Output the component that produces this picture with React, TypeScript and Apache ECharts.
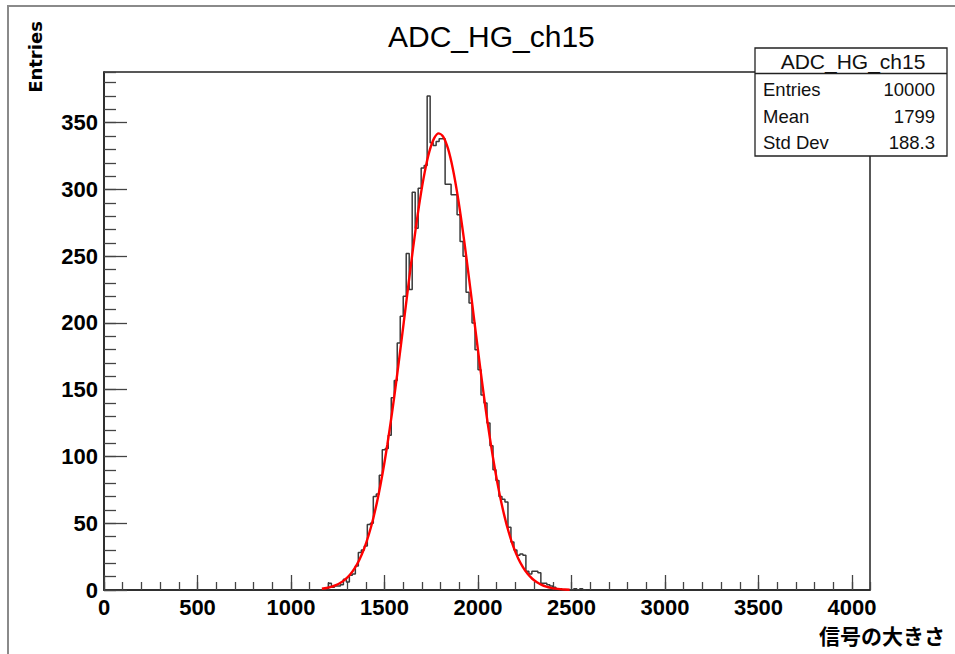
import React, { useEffect, useRef } from "react";
import * as echarts from "echarts";

const chartTitle = "ADC_HG_ch15";
const xAxisName = "信号の大きさ";
const yAxisName = "Entries";
const xMin = 0;
const xMax = 4096;
const yMin = 0;
const yMax = 388;
const xMajor = 500;
const xMinor = 100;
const yMajor = 50;
const yMinor = 10;

// histogram: bins of width 16 starting at binStart
const binStart = 1152;
const binWidth = 16;
const binCounts = [
  0, 0, 1, 5, 2, 3, 3, 4, 8, 6,
  11, 12, 18, 28, 30, 33, 49, 50, 70, 72,
  86, 105, 106, 116, 144, 157, 185, 205, 220, 252,
  225, 298, 271, 301, 316, 318, 370, 335, 333, 336,
  338, 338, 304, 304, 296, 296, 281, 261, 250, 223,
  215, 200, 180, 165, 146, 140, 125, 108, 90, 82,
  70, 68, 66, 47, 36, 30, 26, 27, 26, 14,
  12, 14, 14, 13, 5, 5, 4, 3, 2, 1,
  1, 0, 0, 0, 0, 1, 0, 1, 0,
];

// gaussian fit curve
const fitX = [
  1165, 1190, 1215, 1240, 1265, 1290, 1315, 1340, 1365, 1390,
  1415, 1440, 1465, 1490, 1515, 1540, 1565, 1590, 1615, 1640,
  1665, 1690, 1715, 1740, 1765, 1790, 1815, 1840, 1865, 1890,
  1915, 1940, 1965, 1990, 2015, 2040, 2065, 2090, 2115, 2140,
  2165, 2190, 2215, 2240, 2265, 2290, 2315, 2340, 2365, 2390,
  2415, 2440, 2465, 2490,
];
const fitY = [
  0.97, 1.53, 2.37, 3.62, 5.41, 7.94, 11.45, 16.2, 22.5, 30.6,
  41.0, 53.8, 69.3, 87.6, 108.8, 132.5, 158.5, 186.0, 214.2, 242.2,
  268.8, 292.8, 313.0, 328.5, 338.3, 342.0, 339.3, 330.4, 315.8, 296.3,
  272.8, 246.6, 218.8, 190.5, 162.8, 136.5, 112.4, 90.8, 72.0, 56.1,
  42.9, 32.1, 23.6, 17.1, 12.1, 8.43, 5.76, 3.86, 2.54, 1.64,
  1.04, 0.65, 0.4, 0.24,
];

const statsTitle = "ADC_HG_ch15";
const statsLabels = ["Entries", "Mean", "Std Dev"];
const statsValues = ["10000", "1799", "188.3"];

const LABEL_FONT = "'Liberation Sans', Arial, sans-serif";

export default function App() {
  const ref = useRef<HTMLDivElement>(null);

  useEffect(() => {
    if (!ref.current) return;
    const chart = echarts.init(ref.current, undefined, { renderer: "svg" });

    const histData: number[][] = [];
    histData.push([binStart, 0]);
    binCounts.forEach((c, i) => histData.push([binStart + i * binWidth, c]));
    const lastEdge = binStart + binCounts.length * binWidth;
    histData.push([lastEdge, binCounts[binCounts.length - 1]]);
    histData.push([lastEdge, 0]);

    const fitData = fitX.map((x, i) => [x, fitY[i]]);

    const statsRowY = [89, 116, 142];

    const graphics: any[] = [
      {
        type: "rect",
        z: 0,
        silent: true,
        shape: { x: 8, y: 6, width: 1000, height: 700 },
        style: { fill: "none", stroke: "#8a8a8a", lineWidth: 2 },
      },
      {
        type: "rect",
        z: 100,
        shape: { x: 755, y: 48, width: 192, height: 108 },
        style: { fill: "#fff", stroke: "#222", lineWidth: 1.3 },
      },
      {
        type: "line",
        z: 101,
        shape: { x1: 755, y1: 73.5, x2: 947, y2: 73.5 },
        style: { stroke: "#222", lineWidth: 1.3 },
      },
      {
        type: "text",
        z: 102,
        x: 853,
        y: 61.5,
        style: {
          text: statsTitle,
          align: "center",
          verticalAlign: "middle",
          fontSize: 21,
          fontFamily: LABEL_FONT,
          fill: "#111",
        },
      },
      ...statsLabels.map((l, i) => ({
        type: "text",
        z: 102,
        x: 763,
        y: statsRowY[i],
        style: {
          text: l,
          align: "left",
          verticalAlign: "middle",
          fontSize: 18.5,
          fontFamily: LABEL_FONT,
          fill: "#111",
        },
      })),
      ...statsValues.map((v, i) => ({
        type: "text",
        z: 102,
        x: 935,
        y: statsRowY[i],
        style: {
          text: v,
          align: "right",
          verticalAlign: "middle",
          fontSize: 18.5,
          fontFamily: LABEL_FONT,
          fill: "#111",
        },
      })),
      {
        type: "text",
        z: 102,
        x: 35,
        y: 57,
        rotation: Math.PI / 2,
        style: {
          text: yAxisName,
          align: "center",
          verticalAlign: "middle",
          fontSize: 18,
          fontWeight: "bold",
          fontFamily: "'DejaVu Sans', sans-serif",
          fill: "#000",
        },
      },
      {
        type: "text",
        z: 102,
        x: 945,
        y: 635,
        style: {
          text: xAxisName,
          align: "right",
          verticalAlign: "middle",
          fontSize: 21,
          fontWeight: "bold",
          fontFamily: "'Noto Sans CJK JP', sans-serif",
          fill: "#000",
        },
      },
    ];

    const labelStyle = {
      fontSize: 22,
      fontWeight: "bold" as const,
      fontFamily: LABEL_FONT,
      color: "#000",
    };

    chart.setOption({
      animation: false,
      backgroundColor: "#fff",
      title: {
        text: chartTitle,
        left: 383,
        top: 16,
        textStyle: {
          fontSize: 30,
          fontWeight: "normal",
          fontFamily: LABEL_FONT,
          color: "#000",
        },
      },
      grid: {
        left: 104,
        top: 72,
        width: 766,
        height: 518,
        show: true,
        borderColor: "#222",
        borderWidth: 1.5,
        backgroundColor: "transparent",
        containLabel: false,
      },
      xAxis: [
        {
          type: "value",
          min: xMin,
          max: xMax,
          interval: xMajor,
          axisLine: { show: true, onZero: false, lineStyle: { color: "#222", width: 1.5 } },
          axisTick: { show: true, inside: true, length: 15, lineStyle: { color: "#444", width: 1.3 } },
          splitLine: { show: false },
          axisLabel: {
            ...labelStyle,
            margin: 6,
            showMaxLabel: false,
            formatter: (v: number) => (v % xMajor === 0 ? String(v) : ""),
          },
        },
        {
          type: "value",
          min: xMin,
          max: xMax,
          interval: xMinor,
          position: "bottom",
          axisLine: { show: false, onZero: false },
          axisTick: { show: true, inside: true, length: 8, lineStyle: { color: "#444", width: 1.3 } },
          splitLine: { show: false },
          axisLabel: { show: false },
        },
      ],
      yAxis: [
        {
          type: "value",
          min: yMin,
          max: yMax,
          interval: yMajor,
          axisLine: { show: true, onZero: false, lineStyle: { color: "#222", width: 1.5 } },
          axisTick: { show: true, inside: true, length: 23, lineStyle: { color: "#444", width: 1.3 } },
          splitLine: { show: false },
          axisLabel: {
            ...labelStyle,
            margin: 6,
            showMaxLabel: false,
            formatter: (v: number) => (v % yMajor === 0 ? String(v) : ""),
          },
        },
        {
          type: "value",
          min: yMin,
          max: yMax,
          interval: yMinor,
          position: "left",
          axisLine: { show: false, onZero: false },
          axisTick: { show: true, inside: true, length: 12, lineStyle: { color: "#444", width: 1.3 } },
          splitLine: { show: false },
          axisLabel: { show: false },
        },
      ],
      series: [
        {
          type: "line",
          name: "histogram",
          xAxisIndex: 0,
          yAxisIndex: 0,
          step: "end",
          data: histData,
          showSymbol: false,
          symbol: "none",
          lineStyle: { color: "#3a3a3a", width: 1.5 },
          z: 3,
        },
        {
          type: "line",
          name: "fit",
          xAxisIndex: 0,
          yAxisIndex: 0,
          data: fitData,
          smooth: 0.3,
          showSymbol: false,
          symbol: "none",
          lineStyle: { color: "#ff0000", width: 2.4 },
          z: 4,
        },
      ],
      graphic: graphics,
    });

    return () => {
      chart.dispose();
    };
  }, []);

  return (
    <div
      ref={ref}
      style={{ position: "absolute", left: 0, top: 0, width: 955, height: 654 }}
    />
  );
}
